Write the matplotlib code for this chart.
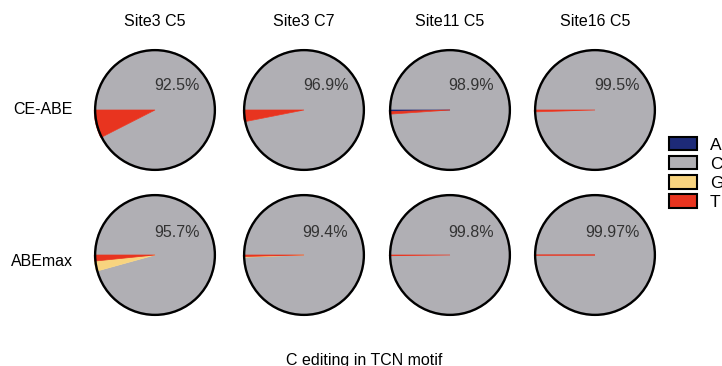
import matplotlib
matplotlib.use("Agg")
import matplotlib.pyplot as plt
from matplotlib.patches import Patch, Circle

plt.rcParams['font.family'] = ['Liberation Sans', 'DejaVu Sans']

# -------------------------------------------------------
# DATA  (% of reads, order: A, T, G, C)
# -------------------------------------------------------
sites = ["Site3 C5", "Site3 C7", "Site11 C5", "Site16 C5"]
editors = ["CE-ABE", "ABEmax"]
bases = ["A", "T", "G", "C"]

ce_abe = [
    [0.0, 7.5, 0.0, 92.5],
    [0.0, 3.1, 0.0, 96.9],
    [0.4, 0.7, 0.0, 98.9],
    [0.0, 0.5, 0.0, 99.5],
]
abemax = [
    [0.0, 1.6, 2.7, 95.7],
    [0.0, 0.4, 0.2, 99.4],
    [0.0, 0.2, 0.0, 99.8],
    [0.0, 0.03, 0.0, 99.97],
]
c_labels = [
    ["92.5%", "96.9%", "98.9%", "99.5%"],
    ["95.7%", "99.4%", "99.8%", "99.97%"],
]

colors = {"A": "#1d2a78", "C": "#b0afb4", "G": "#f8d47f", "T": "#e8341f"}

# -------------------------------------------------------
# LAYOUT (pixels)
# -------------------------------------------------------
W, H = 722, 366
col_x = [155, 304, 450, 595]
row_y = [110, 255]
r = 62

fig = plt.figure(figsize=(W / 100, H / 100), dpi=100)

for i, data in enumerate([ce_abe, abemax]):
    for j, vals in enumerate(data):
        cx, cy = col_x[j], row_y[i]
        ax = fig.add_axes([(cx - r) / W, (H - cy - r) / H, 2 * r / W, 2 * r / H])
        wedges, _ = ax.pie(
            vals,
            colors=[colors[b] for b in bases],
            startangle=180,
            counterclock=True,
            radius=1,
        )
        # thin edits still show as a hairline, like the original renderer
        for w, b, v in zip(wedges, bases, vals):
            if b == "C" or v == 0:
                w.set_linewidth(0)
                w.set_edgecolor("none")
            else:
                w.set_edgecolor(colors[b])
                w.set_linewidth(0.5)
                w.set_zorder(4 if b == "T" else 3)
        ax.add_patch(Circle((0, 0), 0.985, fill=False, edgecolor="black",
                            linewidth=1.7, zorder=5))
        ax.text(0.73, 0.40 if i == 0 else 0.37, c_labels[i][j], ha="right", va="center",
                fontsize=11.5, color="#333333", zorder=6)
        ax.set_xlim(-1.02, 1.02)
        ax.set_ylim(-1.02, 1.02)
        ax.set_aspect("equal")
        ax.axis("off")

# column titles
for j, s in enumerate(sites):
    fig.text(col_x[j] / W, 1 - 22 / H, s, ha="center", va="center", fontsize=11.5)

# row labels
for i, (e, y) in enumerate(zip(editors, [109, 262])):
    fig.text(73 / W, 1 - y / H, e, ha="right", va="center", fontsize=11.5)

fig.text(364 / W, 1 - 360 / H, "C editing in TCN motif", ha="center", va="center",
         fontsize=11.5)

handles = [Patch(facecolor=colors[b], edgecolor="black", linewidth=1.5) for b in ["A", "C", "G", "T"]]
fig.legend(
    handles, ["A", "C", "G", "T"],
    loc="upper left",
    bbox_to_anchor=(669 / W, 1 - 137 / H),
    frameon=False,
    fontsize=12.5,
    handlelength=1.6,
    handleheight=0.8,
    handletextpad=0.75,
    labelspacing=0.2,
    borderpad=0,
    borderaxespad=0,
)

fig.savefig("out.png", dpi=100)
